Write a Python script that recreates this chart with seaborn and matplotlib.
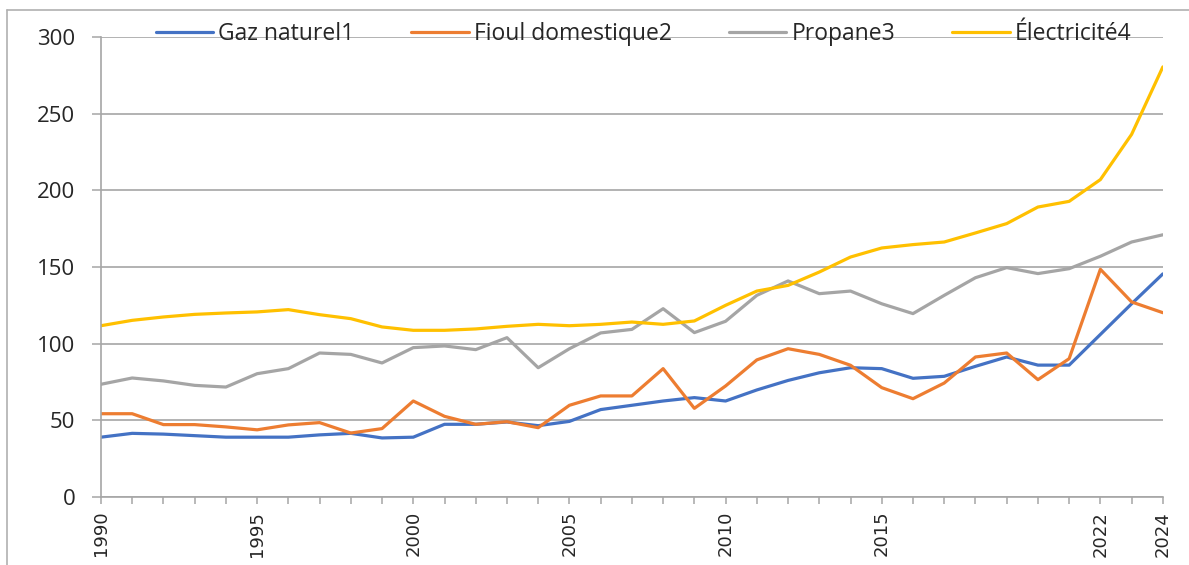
import matplotlib
matplotlib.use('Agg')
import matplotlib.pyplot as plt
import seaborn as sns
import pandas as pd
from matplotlib.ticker import MultipleLocator

years = list(range(1990, 2025))

gaz_naturel = [39, 41.5, 41, 40, 39, 39, 39, 40.5, 41.5, 38.5, 39,
               47.4, 47.4, 48.9, 46.5, 49.3, 57, 59.8, 62.6, 64.8, 62.6,
               69.8, 76, 81, 84.3, 83.7, 77.4, 78.7, 85.2, 91.3, 86,
               86, 106, 126, 145.5]
fioul = [54.3, 54.3, 47.2, 47.2, 45.7, 43.8, 47, 48.5, 41.7, 44.6, 62.6,
         52.6, 47.4, 49.1, 45.2, 59.8, 65.9, 65.9, 83.7, 57.8, 72.4,
         89.4, 96.7, 93, 85.9, 71.3, 64.1, 74.3, 91.3, 93.9, 76.5,
         90.2, 148.5, 127.2, 120.2]
propane = [73.5, 77.6, 75.7, 72.8, 71.7, 80.4, 83.7, 93.9, 93, 87.4, 97.4,
           98.5, 96.1, 103.9, 84.3, 96.7, 107, 109.3, 122.8, 107.2, 114.6,
           131.5, 140.9, 132.6, 134.3, 126, 119.6, 131.5, 143, 149.6, 145.7,
           148.9, 157, 166.3, 171]
electricite = [111.7, 115.2, 117.4, 119.1, 120, 120.7, 122.2, 118.9, 116.3, 110.9, 108.7,
               108.7, 109.6, 111.3, 112.6, 111.7, 112.6, 114.1, 112.6, 114.8, 125,
               134.3, 138, 146.7, 156.5, 162.4, 164.6, 166.3, 172.2, 178.3, 189.1,
               192.8, 207, 236.5, 280.5]

series_names = ['Gaz naturel1', 'Fioul domestique2', 'Propane3', 'Électricité4']
colors = ['#4472C4', '#ED7D31', '#A5A5A5', '#FFC000']
major_years = [1990, 1995, 2000, 2005, 2010, 2015, 2022, 2024]

frames = []
for name, vals in zip(series_names, [gaz_naturel, fioul, propane, electricite]):
    frames.append(pd.DataFrame({'annee': years, 'valeur': vals, 'serie': name}))
df = pd.concat(frames, ignore_index=True)

sns.set_style('white')
plt.rcParams['font.family'] = ['Open Sans', 'DejaVu Sans']

fig = plt.figure(figsize=(11.89, 5.65), dpi=100)
ax = fig.add_axes([0.0849, 0.1204, 0.8931, 0.8141])

sns.lineplot(data=df, x='annee', y='valeur', hue='serie', palette=colors,
             hue_order=series_names, linewidth=2.3, ax=ax, legend=False)

grid_col = '#A6A6A6'
ax.set_xlim(1990, 2024)
ax.set_ylim(0, 300)
ax.yaxis.set_major_locator(MultipleLocator(50))
ax.set_xticks(major_years)
ax.set_xticks(years, minor=True)
ax.set_xticklabels([str(y) for y in major_years], rotation=90,
                   fontsize=13, family='DejaVu Sans')
ax.tick_params(axis='y', labelsize=16, length=6.5, width=1.1, color=grid_col,
               direction='out', pad=12, left=True)
ax.tick_params(axis='x', which='both', length=5, width=1.1, color=grid_col,
               direction='out', pad=5, bottom=True)
ax.grid(axis='y', color=grid_col, linewidth=1.2)
ax.grid(axis='x', visible=False)
ax.set_axisbelow(True)
for side in ['top', 'right']:
    ax.spines[side].set_visible(False)
for side in ['left', 'bottom']:
    ax.spines[side].set_color(grid_col)
    ax.spines[side].set_linewidth(1.2)
ax.set_xlabel('')
ax.set_ylabel('')

handles = [plt.Line2D([0], [0], color=c, linewidth=2.3) for c in colors]
leg = ax.legend(handles, series_names, loc='center', ncol=4,
                bbox_to_anchor=(0.511, 1.006), frameon=False, fontsize=16.5,
                handlelength=2.5, handletextpad=0.22, columnspacing=2.5,
                borderaxespad=0, borderpad=0)

# chart border (partially visible, like the exported Excel chart)
border_col = '#B0B0B0'
fig.add_artist(plt.Line2D([0.0059, 0.0059], [0, 0.9823], color=border_col,
                          linewidth=1.2, transform=fig.transFigure))
fig.add_artist(plt.Line2D([0.0059, 1], [0.9823, 0.9823], color=border_col,
                          linewidth=1.2, transform=fig.transFigure))

fig.savefig('out.png', dpi=100)
